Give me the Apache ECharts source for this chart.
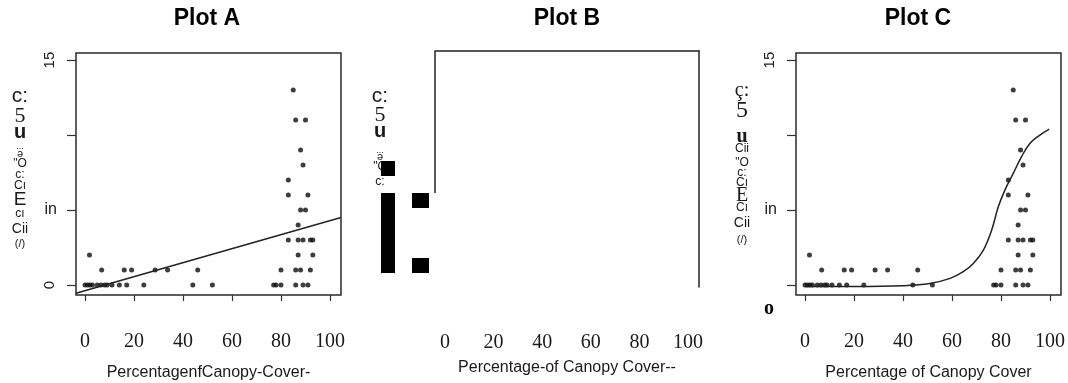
<!DOCTYPE html>
<html><head><meta charset="utf-8">
<script src="https://cdn.jsdelivr.net/npm/echarts@6/dist/echarts.min.js"></script>
<style>html,body{margin:0;padding:0;background:#fff}#c{width:1068px;height:383px}</style>
</head><body><div id="c"></div>
<script>
// ---- data ----
const titles = ['Plot A', 'Plot B', 'Plot C'];
const xTitles = ['PercentagenfCanopy-Cover-', 'Percentage-of Canopy Cover--', 'Percentage of Canopy Cover'];
const xTicks = [0, 20, 40, 60, 80, 100];
const yTicks = [0, 5, 10, 15];
const yLabelsA = {0: '0', 15: '15'};
const yLabelsC = {15: '15'};
const yMidLabel = {5: 'in'};

// canopy cover (%) and species count for each sampled point
const canopy = [0,1,2,3,5,6.5,8,9,11,14,17,24,44,52,77,78,80,86,89,91,
                6.8,16,19,28.6,33.7,46,80,86,88,92,
                1.8,87,93,
                83,87,89,92,93,
                87,
                88,90,
                83,91,
                83,
                89,
                88,
                86,90,
                85];
const species = [0,0,0,0,0,0,0,0,0,0,0,0,0,0,0,0,0,0,0,0,
                 1,1,1,1,1,1,1,1,1,1,
                 2,2,2,
                 3,3,3,3,3,
                 4,
                 5,5,
                 6,6,
                 7,
                 8,
                 9,
                 11,11,
                 13];

// linear fit (Plot A), end points
const fitAX = [-3.7, 104.5];
const fitAY = [-0.55, 4.5];

// sigmoid fit (Plot C)
const curveCX = [0, 20, 40, 51, 59.2, 64.6, 68.7, 72.8, 76.2, 78.9, 81.6, 85, 88.4, 91.8, 95.9, 99.7];
const curveCY = [-0.1, -0.1, -0.05, 0.1, 0.44, 0.89, 1.44, 2.33, 3.67, 5.22, 6.33, 7.44, 8.56, 9.44, 10.0, 10.4];

// ---- build ----
const pts = canopy.map((x, i) => [x, species[i]]);
const fitA = fitAX.map((x, i) => [x, fitAY[i]]);
const curveC = curveCX.map((x, i) => [x, curveCY[i]]);

const ink = '#1a1a1a';
const serif = 'Liberation Serif, DejaVu Serif, serif';
const sans = 'Liberation Sans, Arial, sans-serif';

function xAxisBottom(gi, min, max, showTick, margin, nameGap) {
  return {
    type: 'value', gridIndex: gi, min: min, max: max, position: 'bottom',
    splitLine: {show: false},
    axisLine: {show: false, onZero: false},
    axisTick: {show: showTick, customValues: xTicks, length: 6, lineStyle: {color: '#333', width: 1.2}},
    axisLabel: {customValues: xTicks, margin: margin, fontFamily: serif, fontSize: 20, color: ink},
    name: xTitles[gi], nameLocation: 'middle', nameGap: nameGap,
    nameTextStyle: {fontFamily: sans, fontSize: 16, color: ink}
  };
}

const grids = [
  {left: 76, top: 53, width: 265, height: 242, show: true, borderColor: '#2a2a2a', borderWidth: 1.5, outerBoundsMode: 'none', containLabel: false},
  {left: 435, top: 51, width: 264, height: 236, show: false, outerBoundsMode: 'none', containLabel: false},
  {left: 796, top: 53, width: 265, height: 242, show: true, borderColor: '#2a2a2a', borderWidth: 1.5, outerBoundsMode: 'none', containLabel: false}
];

const xAxes = [
  xAxisBottom(0, -3.7, 104.5, true, 37, 70),
  xAxisBottom(1, -4.1, 104.5, false, 46, 73),
  xAxisBottom(2, -3.7, 104.5, true, 37, 70),
  // top line of Plot B
  {type: 'value', gridIndex: 1, min: -4.1, max: 104.5, position: 'top',
   axisLine: {show: true, onZero: false, lineStyle: {color: '#222', width: 1.5}},
   axisTick: {show: false}, axisLabel: {show: false}, splitLine: {show: false}}
];

function yMain(gi, labels) {
  return {
    type: 'value', gridIndex: gi, min: -0.667, max: 15.47, position: 'left',
    splitLine: {show: false}, axisLine: {show: false, onZero: false},
    axisTick: {show: true, customValues: yTicks, length: 9, lineStyle: {color: '#333', width: 1.2}},
    axisLabel: {customValues: Object.keys(labels).map(Number), rotate: 90, margin: 19,
      fontFamily: sans, fontSize: 15, color: ink, formatter: v => labels[v] || ''}
  };
}
function yMid(gi) {
  return {
    type: 'value', gridIndex: gi, min: -0.667, max: 15.47, position: 'left',
    splitLine: {show: false}, axisLine: {show: false, onZero: false}, axisTick: {show: false},
    axisLabel: {customValues: [5], margin: 19, fontFamily: sans, fontSize: 16, color: ink,
      formatter: v => yMidLabel[v] || ''}
  };
}

const yAxes = [
  yMain(0, yLabelsA), yMid(0),
  // Plot B: right frame line
  {type: 'value', gridIndex: 1, min: 0, max: 15, position: 'right',
   axisLine: {show: true, onZero: false, lineStyle: {color: '#222', width: 1.5}},
   axisTick: {show: false}, axisLabel: {show: false}, splitLine: {show: false}},
  yMain(2, yLabelsC), yMid(2)
];

const dotStyle = {color: '#0d0d0d'};
const series = [
  {type: 'scatter', xAxisIndex: 0, yAxisIndex: 0, data: pts, symbolSize: 5, itemStyle: dotStyle, silent: true},
  {type: 'line', xAxisIndex: 0, yAxisIndex: 0, data: fitA, showSymbol: false, lineStyle: {color: '#222', width: 1.5}, silent: true},
  {type: 'scatter', xAxisIndex: 2, yAxisIndex: 3, data: pts, symbolSize: 5, itemStyle: dotStyle, silent: true},
  {type: 'line', xAxisIndex: 2, yAxisIndex: 3, data: curveC, smooth: 0.4, showSymbol: false, lineStyle: {color: '#222', width: 1.5}, silent: true}
];

// scanned-page artefacts: garbled y-axis titles and blocks
const yTitleA = [['c:',20,96,21,sans,'normal'],['5',20,116,22,serif,'normal'],['u',20,132,20,sans,'bold'],
  ['...',20,147,9,sans,'normal'],['ə',20,154,11,sans,'normal'],['"O',20,164,12,sans,'normal'],['c:',20,175,12,sans,'normal'],
  ['Cı',20,186,12,sans,'normal'],['E',20,200,19,sans,'normal'],['cı',20,214,12,sans,'normal'],['Cii',20,229,14,sans,'normal'],
  ['(/)',20,244,11,sans,'normal']];
const yTitleB = [['c:',380,96,21,sans,'normal'],['5',380,115,22,serif,'normal'],['u',380,131,20,sans,'bold'],
  ['...',380,151,9,sans,'normal'],['ə',380,157,11,sans,'normal'],['"O',380,167,12,sans,'normal'],['c:',380,182,12,sans,'normal']];
const yTitleC = [['ç:',742,91,20,serif,'normal'],['5',742,111,24,serif,'normal'],['u',742,137,20,serif,'bold'],
  ['Cii',742,149,12,sans,'normal'],['"O',742,163,12,sans,'normal'],['c:',742,173,12,sans,'normal'],['Cı',742,183,12,sans,'normal'],
  ['E',742,196,20,serif,'normal'],['Cı',742,208,12,sans,'normal'],['Cii',742,223,14,sans,'normal'],['(/)',742,240,11,sans,'normal']];

const graphic = [];
[yTitleA, yTitleB, yTitleC].forEach(arr => arr.forEach(t => graphic.push({
  type: 'text', x: t[1], y: t[2], silent: true,
  style: {text: t[0], fontSize: t[3], fontFamily: t[4], fontWeight: t[5], fill: ink, align: 'center', verticalAlign: 'middle'}
})));
// titles
[[207, titles[0]], [567, titles[1]], [918, titles[2]]].forEach(t => graphic.push({
  type: 'text', x: t[0], y: 19, silent: true,
  style: {text: t[1], fontSize: 23, fontWeight: 'bold', fontFamily: sans, fill: '#000', align: 'center', verticalAlign: 'middle'}
}));
// Plot B partial left frame line
graphic.push({type: 'line', silent: true, shape: {x1: 435, y1: 51, x2: 435, y2: 193}, style: {stroke: '#222', lineWidth: 1.5}});
// Plot B black blocks
[[381,193,14,80],[412,193,17,15],[412,258,17,15],[381,161,14,15]].forEach(r => graphic.push({
  type: 'rect', silent: true, shape: {x: r[0], y: r[1], width: r[2], height: r[3]}, style: {fill: '#000'}
}));
// stray "o" under Plot C axis
graphic.push({type: 'text', x: 769, y: 309, silent: true,
  style: {text: 'o', fontSize: 20, fontWeight: 'bold', fontFamily: serif, fill: '#000', align: 'center', verticalAlign: 'middle'}});

const chart = echarts.init(document.getElementById('c'), null, {renderer: 'canvas'});
chart.setOption({
  animation: false,
  backgroundColor: '#fff',
  grid: grids,
  xAxis: xAxes,
  yAxis: yAxes,
  series: series,
  graphic: graphic
});
</script>
</body></html>
